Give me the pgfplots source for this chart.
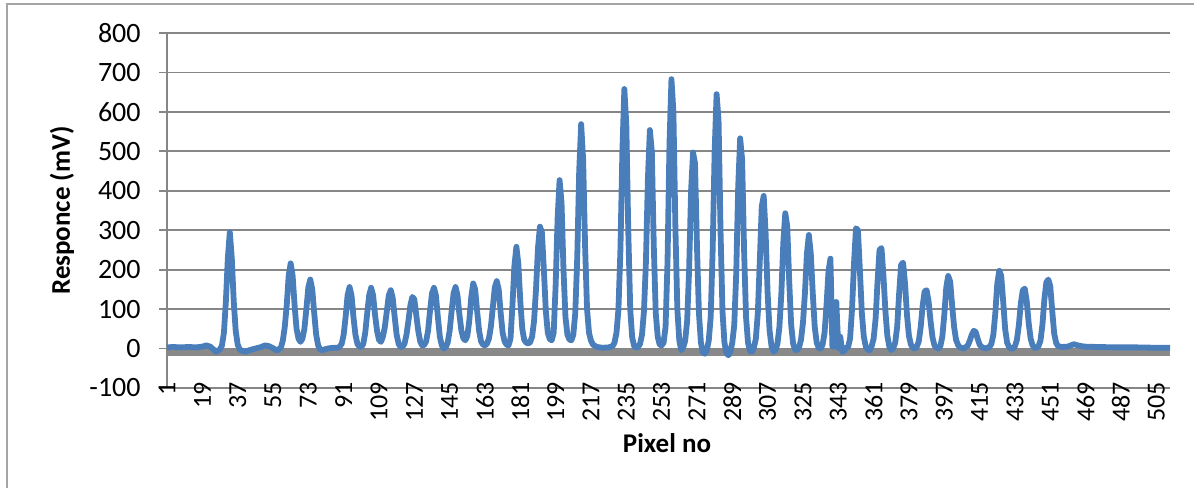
\documentclass[border=0pt]{standalone}
\usepackage{pgfplots}
\pgfplotsset{compat=1.18}
\usepackage{fontspec}
\setmainfont{Carlito}
\definecolor{lineblue}{RGB}{74,126,187}
\definecolor{gridgray}{RGB}{134,134,134}
\definecolor{bandgray}{RGB}{137,137,137}
\definecolor{framegray}{RGB}{165,165,165}
\begin{document}
\fontsize{12}{14}\selectfont
\begin{tikzpicture}
\useasboundingbox (0,0) rectangle (597pt,244pt);
\draw[framegray, line width=0.8pt] (3.5pt,0) -- (3.5pt,242pt) -- (597pt,242pt);
\begin{axis}[
  at={(83.5pt,50pt)}, anchor=south west,
  scale only axis, width=501.5pt, height=177.5pt,
  xmin=1, xmax=512, ymin=-100, ymax=800,
  axis x line*=bottom, axis y line*=left,
  axis line style={gridgray, line width=0.9pt, -},
  xtick={1,19,...,505},
  ytick={-100,0,...,800},
  ymajorgrids, grid style={gridgray, line width=0.9pt},
  tick align=outside, major tick length=4pt,
  xtick style={draw=none},
  ytick style={gridgray, line width=0.9pt},
  yticklabel style={font=\fontsize{14}{16}\selectfont, anchor=east, inner sep=0pt, xshift=-9pt},
  xticklabel style={font=\fontsize{13}{15}\selectfont, rotate=90, anchor=east, inner sep=0pt},
  /pgf/number format/assume math mode=true,
  xticklabel shift=-7pt,
  every axis y label/.style={at={(axis description cs:-0.1047,0.5)}, rotate=90, anchor=center, font=\bfseries\fontsize{13.5}{15}\selectfont},
  every axis x label/.style={at={(axis description cs:0.4985,0)}, anchor=center, yshift=-27.5pt, font=\bfseries\fontsize{13.5}{15}\selectfont},
  ylabel={Responce (mV)},
  xlabel={Pixel no},
]
\fill[bandgray] (axis cs:1,0) rectangle (axis cs:512,-20);
\addplot[lineblue, line width=2.9pt, line join=round, mark=none] coordinates {
(1,3)(4,4)(8,3)(12,4)(16,3)(19,5)(21,8)(23,5)(26,-8)(28,-2)(29,8)
(30,40)(31,120)(32,230)(33,295)(34,230)(35,120)(36,45)(37,10)(38,-2)(39,-5)(41,-8)(43,-4)(46,0)(49,4)(51,8)(53,6)(55,1)(57,-5)(59,2)
(60,20)(61,55)(62,110)(63,185)(64,216)(65,185)(66,110)(67,50)(68,25)(69,17)(70,25)
(71,50)(72,100)(73,155)(74,175)(75,150)(76,90)(77,35)(78,8)(79,-2)(80,-4)(82,-1)(84,1)(86,2)(88,2)
(89,5)(90,12)(91,35)(92,80)(93,135)(94,156)(95,135)(96,80)(97,35)(98,12)(99,5)(100,4)
(101,12)(102,40)(103,90)(104,135)(105,154)(106,135)(107,85)(108,45)(109,22)(110,17)
(111,30)(112,55)(113,95)(114,135)(115,148)(116,128)(117,80)(118,35)(119,12)(120,4)
(121,5)(122,12)(123,35)(124,70)(125,110)(126,131)(127,125)(128,85)(129,45)(130,18)(131,8)
(132,9)(133,18)(134,45)(135,95)(136,140)(137,154)(138,135)(139,80)(140,30)(141,8)(142,0)
(143,3)(144,15)(145,45)(146,95)(147,140)(148,156)(149,135)(150,85)(151,45)(152,26)(153,21)
(154,32)(155,70)(156,130)(157,165)(158,150)(159,95)(160,45)(161,18)(162,10)(163,8)
(164,12)(165,25)(166,55)(167,105)(168,155)(169,171)(170,150)(171,90)(172,40)(173,18)(174,10)(175,8)
(176,25)(177,110)(178,210)(179,258)(180,215)(181,120)(182,50)(183,22)(184,15)(185,13)
(186,16)(187,30)(188,70)(189,150)(190,255)(191,309)(192,295)(193,200)(194,95)(195,40)(196,24)(197,21)
(198,40)(199,160)(200,330)(201,427)(202,370)(203,200)(204,80)(205,35)(206,23)(207,21)
(208,35)(209,90)(210,230)(211,450)(212,569)(213,480)(214,260)(215,100)(216,40)(217,20)(218,10)(220,4)(223,2)(226,3)(228,6)
(229,15)(230,40)(231,100)(232,250)(233,500)(234,658)(235,570)(236,300)(237,100)(238,28)(239,6)(240,2)(241,4)
(242,12)(243,35)(244,95)(245,220)(246,430)(247,554)(248,500)(249,260)(250,90)(251,30)(252,10)(253,8)
(254,15)(255,55)(256,220)(257,520)(258,683)(259,600)(260,310)(261,100)(262,20)(263,-4)
(264,3)(265,20)(266,70)(267,200)(268,400)(269,497)(270,470)(271,260)(272,90)(273,15)(274,-10)(275,-13)
(276,-5)(277,20)(278,80)(279,250)(280,500)(281,645)(282,580)(283,300)(284,95)(285,15)(286,-12)(287,-17)
(288,-8)(289,15)(290,60)(291,190)(292,410)(293,533)(294,480)(295,250)(296,80)(297,15)(298,-6)(299,-8)
(300,2)(301,25)(302,90)(303,220)(304,360)(305,387)(306,290)(307,140)(308,45)(309,5)(310,-8)
(311,-4)(312,12)(313,55)(314,140)(315,270)(316,343)(317,310)(318,170)(319,60)(320,12)(321,-3)(322,-4)
(323,3)(324,22)(325,65)(326,140)(327,240)(328,288)(329,240)(330,140)(331,55)(332,15)(333,2)(334,0)
(335,10)(336,40)(337,110)(338,195)(339,228)(340,5)(341,5)(342,118)(343,2)(344,30)(345,-8)(346,-6)(347,2)
(348,4)(349,25)(350,100)(351,215)(352,305)(353,300)(354,200)(355,90)(356,30)(357,5)(358,-3)(359,-4)
(360,6)(361,25)(362,75)(363,170)(364,250)(365,255)(366,185)(367,95)(368,32)(369,5)(370,-4)
(371,1)(372,15)(373,55)(374,140)(375,212)(376,218)(377,165)(378,85)(379,32)(380,10)(381,2)(382,0)
(383,5)(384,18)(385,55)(386,110)(387,145)(388,148)(389,120)(390,70)(391,28)(392,8)(393,2)(394,0)
(395,6)(396,30)(397,85)(398,155)(399,184)(400,170)(401,110)(402,55)(403,22)(404,9)(405,3)(407,0)
(409,8)(410,20)(411,35)(412,45)(413,42)(414,25)(415,10)(416,4)(418,0)
(420,4)(421,12)(422,35)(423,90)(424,165)(425,197)(426,185)(427,120)(428,50)(429,15)(430,4)(431,0)(432,0)
(433,6)(434,22)(435,60)(436,115)(437,148)(438,152)(439,120)(440,65)(441,25)(442,8)(443,2)(444,2)
(445,6)(446,20)(447,60)(448,125)(449,168)(450,175)(451,158)(452,95)(453,38)(454,14)(455,6)(457,4)(460,5)(463,11)(465,8)(468,5)(475,4)(485,3)(495,3)(505,2)(512,2)
};
\end{axis}
\end{tikzpicture}
\end{document}
